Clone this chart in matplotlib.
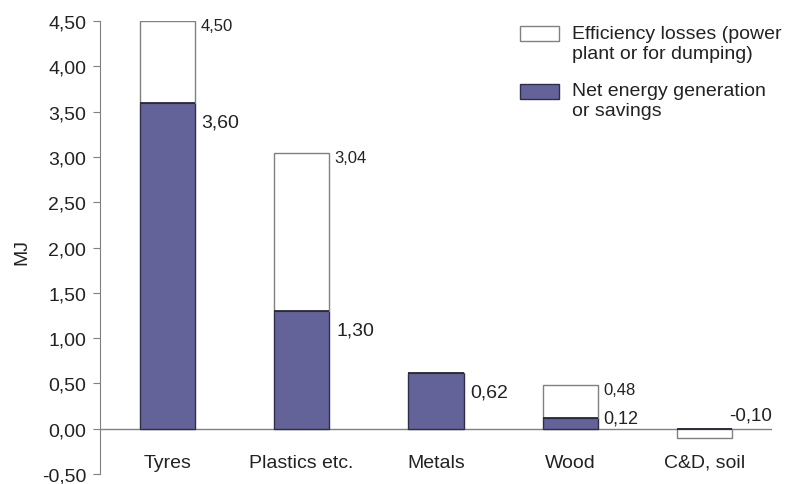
import numpy as np
import matplotlib as mpl
mpl.use("Agg")
import matplotlib.pyplot as plt
from matplotlib.patches import Rectangle

# energy recovered per waste stream (MJ)
categories = ["Tyres", "Plastics etc.", "Metals", "Wood", "C&D, soil"]
net_energy = [3.60, 1.30, 0.62, 0.12, 0.00]
total_energy = [4.50, 3.04, 0.62, 0.48, -0.10]
losses = [t - n for t, n in zip(total_energy, net_energy)]

y_ticks = [-0.5, 0.0, 0.5, 1.0, 1.5, 2.0, 2.5, 3.0, 3.5, 4.0, 4.5]

purple = "#63639a"
grey = "#808080"
txt = "#222222"

plt.rcParams["font.family"] = ["Liberation Sans", "DejaVu Sans"]

fig = plt.figure(figsize=(7.96, 4.85), dpi=100)
ax = fig.add_axes([0.1256, 0.0206, 0.8442, 0.9340])

x = np.arange(len(categories))
w = 0.41

ax.bar(x, net_energy, w, color=purple, edgecolor="#2e2e4a", lw=1, zorder=2)
ax.bar(x, losses, w, bottom=net_energy, color="white", edgecolor=grey, lw=1, zorder=2)
# dark line where net meets the losses
ax.hlines(net_energy, x - w / 2, x + w / 2, color="#1a1a2a", lw=1.2, zorder=3)

ax.axhline(0, color=grey, lw=1, zorder=1)

ax.set_xlim(-0.5, 4.5)
ax.set_ylim(-0.5, 4.5)
ax.set_yticks(y_ticks)
ax.set_yticklabels([f"{t:.2f}".replace(".", ",") for t in y_ticks], fontsize=14, color=txt)
ax.set_xticks([])
for s in ["top", "right", "bottom"]:
    ax.spines[s].set_visible(False)
ax.spines["left"].set_color(grey)
ax.tick_params(axis="y", length=5, color=grey, pad=5)

for i, c in enumerate(categories):
    ax.text(i, -0.37, c, ha="center", va="center", fontsize=14, color=txt)

def fmt(v):
    return f"{v:.2f}".replace(".", ",")

# totals (top of the white part)
for i, t in enumerate(total_energy):
    if losses[i] == 0:
        continue
    if t < 0:
        ax.annotate(fmt(t), (x[i] + w / 2, 0), xytext=(-2, 10), textcoords="offset points",
                    ha="left", va="center", fontsize=13.5, color=txt)
    else:
        ax.annotate(fmt(t), (x[i] + w / 2, t), xytext=(4, -3), textcoords="offset points",
                    ha="left", va="center", fontsize=12, color=txt)

# net values
for i, n in enumerate(net_energy):
    if n == 0:
        continue
    if n < 0.3:
        ax.annotate(fmt(n), (x[i] + w / 2, n), xytext=(4, 0), textcoords="offset points",
                    ha="left", va="center", fontsize=13, color=txt)
    else:
        ax.annotate(fmt(n), (x[i] + w / 2, n), xytext=(5, -14), textcoords="offset points",
                    ha="left", va="center", fontsize=14, color=txt)

fig.text(0.028, 0.48, "MJ", rotation=90, ha="center", va="center", fontsize=14, color=txt)

# legend
fig.patches.append(Rectangle((520 / 796, 1 - 42 / 485), 39 / 796, 15 / 485,
                             transform=fig.transFigure, facecolor="white", edgecolor=grey, lw=1))
fig.patches.append(Rectangle((520 / 796, 1 - 100 / 485), 39 / 796, 15 / 485,
                             transform=fig.transFigure, facecolor=purple, edgecolor="#2e2e4a", lw=1))
fig.text(572 / 796, 1 - 26 / 485, "Efficiency losses (power\nplant or for dumping)",
         ha="left", va="top", fontsize=14, color=txt, linespacing=1.25)
fig.text(572 / 796, 1 - 83 / 485, "Net energy generation\nor savings",
         ha="left", va="top", fontsize=14, color=txt, linespacing=1.25)

plt.savefig("out.png", dpi=100)
